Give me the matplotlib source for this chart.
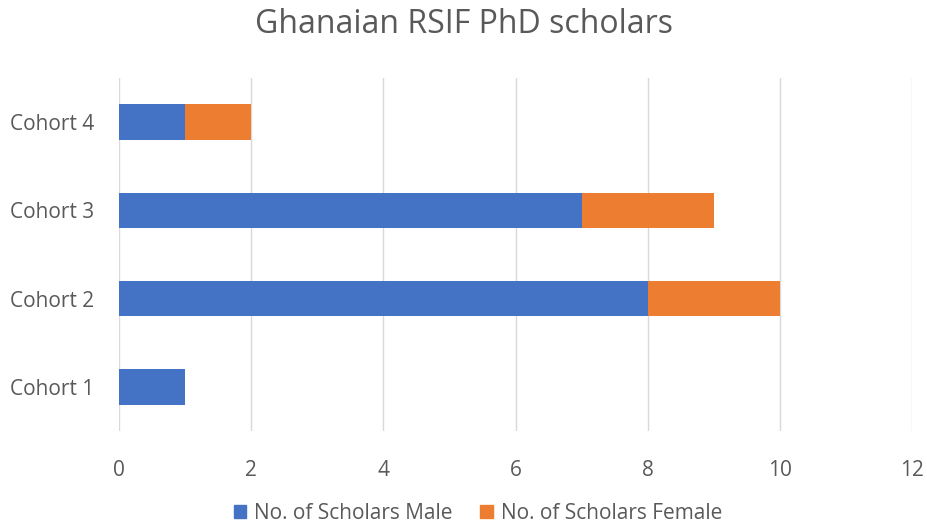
import matplotlib.pyplot as plt
from matplotlib.patches import Patch

plt.rcParams['font.family'] = ['Open Sans', 'DejaVu Sans']

cohorts = ["Cohort 1", "Cohort 2", "Cohort 3", "Cohort 4"]
male = [1, 8, 7, 1]
female = [0, 2, 2, 1]

blue = "#4472C4"
orange = "#ED7D31"
txt = "#595959"

fig = plt.figure(figsize=(9.28, 5.27), dpi=100)
ax = fig.add_axes([0.128, 0.182, 0.855, 0.67])

ax.barh(cohorts, male, height=0.4, color=blue, zorder=3)
ax.barh(cohorts, female, left=male, height=0.4, color=orange, zorder=3)

ax.set_xlim(0, 12)
ax.set_ylim(-0.5, 3.5)
ax.set_xticks(range(0, 13, 2))
ax.grid(axis='x', color="#D9D9D9", linewidth=1, zorder=0)
for s in ax.spines.values():
    s.set_visible(False)
ax.tick_params(length=0, labelsize=15, labelcolor=txt)
ax.tick_params(axis='x', pad=21)
ax.tick_params(axis='y', pad=18)

fig.suptitle("Ghanaian RSIF PhD scholars", y=0.985, fontsize=23, color=txt)

handles = [Patch(color=blue, label="No. of Scholars Male"),
           Patch(color=orange, label="No. of Scholars Female")]
fig.legend(handles=handles, loc='lower center', bbox_to_anchor=(0.515, -0.03), ncol=2,
           frameon=False, fontsize=15, labelcolor=txt, handlelength=0.6, handleheight=0.6,
           handletextpad=0.4, columnspacing=1.3)

fig.savefig("out.png", dpi=100)
